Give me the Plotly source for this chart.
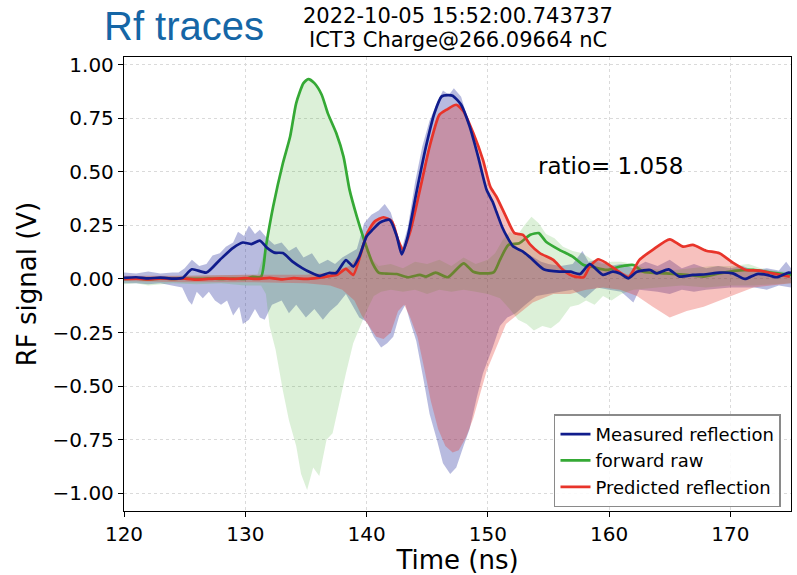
import plotly.graph_objects as go

# ---------------- data ----------------
# Smoothed envelopes (lines)
meas_t = [120.0, 121.0, 122.0, 123.0, 124.0, 124.8, 125.6, 126.8, 127.9, 129.0, 129.8, 130.5,
          131.2, 131.8, 132.4, 133.1, 133.9, 134.7, 135.4, 136.1, 136.9, 137.5, 138.3, 138.9,
          139.4, 140.0, 140.5, 141.1, 141.9, 142.5, 142.9, 143.4, 144.1, 144.9, 145.6, 146.2,
          146.7, 147.1, 147.8, 148.5, 149.2, 149.9, 150.4, 150.7, 151.2, 151.5, 152.1, 152.9,
          153.5, 154.6, 155.9, 156.8, 157.6, 158.4, 159.5, 160.3, 160.9, 161.6, 162.3, 163.4,
          163.9, 164.9, 165.8, 166.9, 168.0, 169.1, 170.2, 171.2, 172.2, 173.0, 173.8, 174.8, 175.0]
meas_v = [0.005, 0.008, 0.003, 0.006, 0.002, 0.004, 0.045, 0.030, 0.089, 0.145, 0.170, 0.163,
          0.179, 0.145, 0.123, 0.121, 0.081, 0.051, 0.030, 0.014, 0.028, 0.028, 0.088, 0.058,
          0.104, 0.198, 0.230, 0.263, 0.276, 0.198, 0.115, 0.198, 0.400, 0.618, 0.774, 0.852,
          0.858, 0.855, 0.813, 0.712, 0.571, 0.416, 0.360, 0.315, 0.240, 0.206, 0.151, 0.128,
          0.100, 0.045, 0.034, 0.034, 0.023, 0.069, 0.019, 0.034, 0.026, 0.003, 0.034, 0.042,
          0.026, 0.045, 0.011, 0.019, 0.022, 0.030, 0.026, 0.000, 0.023, 0.019, 0.008, 0.030, 0.028]

fwd_t = [120.0, 121.0, 122.0, 123.0, 124.0, 125.0, 126.0, 127.0, 128.0, 129.0, 130.0, 130.6,
         131.3, 131.7, 132.3, 133.1, 133.7, 134.2, 134.8, 135.2, 135.7, 136.3, 136.8, 137.5,
         138.1, 138.6, 139.2, 139.8, 140.5, 141.0, 141.6, 142.5, 143.4, 144.4, 144.9, 145.7,
         146.7, 148.0, 148.8, 149.6, 150.5, 151.0, 151.7, 152.6, 153.5, 154.2, 154.8, 155.9,
         157.0, 157.9, 158.7, 159.8, 160.9, 162.0, 162.8, 164.7, 166.4, 167.8, 169.1, 170.5,
         171.9, 173.3, 175.0]
fwd_v = [0.000, 0.003, -0.002, 0.002, 0.000, 0.002, 0.000, 0.002, 0.000, 0.002, 0.000, 0.010,
         0.010, 0.151, 0.338, 0.540, 0.665, 0.821, 0.914, 0.933, 0.914, 0.860, 0.774, 0.681,
         0.571, 0.416, 0.291, 0.182, 0.073, 0.030, 0.025, 0.023, 0.008, 0.019, 0.011, 0.030,
         0.008, 0.073, 0.034, 0.026, 0.032, 0.089, 0.159, 0.167, 0.206, 0.214, 0.174, 0.136,
         0.104, 0.065, 0.055, 0.042, 0.058, 0.065, 0.034, 0.026, 0.019, 0.011, 0.026, 0.039,
         0.042, 0.030, 0.019]

pred_t = [120.0, 121.0, 122.0, 123.0, 124.0, 125.0, 126.0, 127.0, 128.0, 129.0, 130.0, 131.0,
          132.0, 133.0, 134.0, 135.0, 136.0, 137.0, 137.6, 138.3, 138.9, 140.0, 140.7, 141.4,
          142.1, 142.6, 143.0, 143.6, 144.4, 145.2, 146.0, 146.6, 147.4, 148.0, 148.8, 149.6,
          150.2, 150.7, 151.5, 152.2, 152.9, 153.5, 154.3, 155.4, 156.2, 157.0, 157.9, 158.4,
          159.1, 159.8, 160.6, 161.6, 162.5, 163.6, 165.0, 166.1, 166.9, 168.0, 169.1, 170.2,
          171.3, 172.4, 173.5, 174.9]
pred_v = [0.000, 0.002, -0.002, 0.003, 0.000, 0.002, -0.003, 0.000, 0.003, 0.000, 0.004, 0.000,
          0.005, -0.002, 0.004, 0.000, 0.005, 0.014, 0.020, 0.047, 0.019, 0.206, 0.270, 0.288,
          0.268, 0.182, 0.136, 0.221, 0.416, 0.618, 0.766, 0.790, 0.813, 0.782, 0.681, 0.556,
          0.431, 0.385, 0.291, 0.214, 0.206, 0.160, 0.120, 0.089, 0.042, 0.014, 0.008, 0.058,
          0.092, 0.073, 0.042, 0.008, 0.089, 0.136, 0.185, 0.151, 0.159, 0.132, 0.120, 0.076,
          0.042, 0.039, 0.026, 0.011]

# Raw (oscillating) signals, given as their upper / lower extents
meas_raw_up_t = [120, 121, 122, 123, 124, 124.5, 125, 125.6, 126.2, 126.8, 127.3, 127.9, 128.4,
                 129.0, 129.4, 129.9, 130.3, 130.8, 131.2, 131.8, 132.4, 133.0, 133.6, 134.2,
                 134.8, 135.5, 136.1, 136.8, 137.4, 138.0, 138.6, 139.2, 139.8, 140.4, 141.0,
                 141.5, 142.0, 142.5, 142.9, 143.4, 144.0, 144.6, 145.2, 145.8, 146.3, 146.8,
                 147.2, 147.8, 148.4, 149.0, 149.6, 150.2, 150.8, 151.4, 152.0, 152.6, 153.2,
                 153.8, 154.4, 155.0, 156.0, 157.0, 157.8, 158.3, 159.0, 160.0, 161.0, 162.0,
                 163.0, 164.0, 165.0, 166.0, 167.0, 168.0, 169.0, 170.0, 171.0, 172.0, 173.0,
                 174.0, 174.6, 175.0]
meas_raw_up_v = [0.03, 0.025, 0.035, 0.025, 0.03, 0.03, 0.05, 0.09, 0.06, 0.07, 0.11, 0.12, 0.15,
                 0.17, 0.22, 0.20, 0.25, 0.21, 0.23, 0.19, 0.16, 0.17, 0.13, 0.15, 0.10, 0.12,
                 0.07, 0.09, 0.07, 0.10, 0.12, 0.14, 0.26, 0.30, 0.32, 0.35, 0.31, 0.22, 0.14,
                 0.24, 0.45, 0.62, 0.74, 0.82, 0.88, 0.86, 0.89, 0.85, 0.74, 0.62, 0.48, 0.38,
                 0.30, 0.22, 0.17, 0.14, 0.12, 0.10, 0.08, 0.07, 0.06, 0.07, 0.13, 0.08, 0.09,
                 0.06, 0.07, 0.05, 0.08, 0.06, 0.09, 0.05, 0.07, 0.05, 0.06, 0.05, 0.06, 0.04,
                 0.05, 0.04, 0.08, 0.05]
meas_raw_lo_t = [120, 121, 122, 123, 124, 124.8, 125.3, 125.6, 126.0, 126.5, 127.0, 127.5, 128.0,
                 128.5, 129.0, 129.5, 129.8, 130.3, 130.8, 131.2, 131.6, 132.2, 133.0, 133.6,
                 134.2, 135.0, 135.7, 136.4, 137.0, 137.6, 138.3, 138.8, 139.4, 140.0, 140.6,
                 141.2, 141.7, 142.2, 142.7, 143.2, 143.6, 144.1, 144.7, 145.2, 145.8, 146.3,
                 146.9, 147.4, 148.0, 148.5, 149.1, 149.6, 150.4, 151.0, 151.6, 152.3, 153.1,
                 154.0, 155.0, 156.0, 157.0, 158.0, 159.0, 160.0, 161.0, 162.0, 162.5, 164.0,
                 165.0, 166.0, 167.0, 168.0, 170.0, 172.0, 173.0, 174.0, 175.0]
meas_raw_lo_v = [-0.02, -0.02, -0.025, -0.02, -0.03, -0.04, -0.10, -0.12, -0.06, -0.09, -0.06,
                 -0.10, -0.12, -0.10, -0.17, -0.13, -0.21, -0.19, -0.14, -0.18, -0.19, -0.12,
                 -0.10, -0.16, -0.12, -0.18, -0.14, -0.19, -0.15, -0.12, -0.07, -0.12, -0.18,
                 -0.20, -0.27, -0.32, -0.30, -0.27, -0.17, -0.12, -0.20, -0.29, -0.47, -0.63,
                 -0.75, -0.86, -0.91, -0.88, -0.78, -0.70, -0.55, -0.44, -0.32, -0.22, -0.18,
                 -0.16, -0.12, -0.08, -0.07, -0.06, -0.05, -0.09, -0.04, -0.05, -0.06, -0.11,
                 -0.05, -0.06, -0.07, -0.05, -0.06, -0.05, -0.04, -0.04, -0.05, -0.03, -0.04]

fwd_raw_up_t = [120, 131.0, 131.7, 132.3, 133.1, 133.7, 134.2, 134.8, 135.2, 135.7, 136.3, 136.8,
                137.5, 138.1, 138.6, 139.2, 139.8, 140.5, 141.0, 142, 143, 144, 145, 146, 147,
                148, 149, 150, 150.6, 151.2, 151.8, 152.4, 153.0, 153.6, 154.2, 154.8, 155.5,
                156.2, 157.0, 157.8, 158.6, 159.4, 160.2, 161.0, 162.0, 163, 165, 167, 168.5,
                170, 171.5, 172.5, 173.5, 175]
fwd_raw_up_v = [0.01, 0.02, 0.15, 0.34, 0.54, 0.665, 0.82, 0.91, 0.93, 0.91, 0.86, 0.77, 0.68,
                0.57, 0.42, 0.29, 0.18, 0.09, 0.06, 0.07, 0.05, 0.08, 0.07, 0.09, 0.06, 0.10,
                0.07, 0.09, 0.12, 0.18, 0.22, 0.20, 0.25, 0.29, 0.26, 0.21, 0.19, 0.15, 0.13,
                0.12, 0.09, 0.07, 0.08, 0.08, 0.07, 0.05, 0.04, 0.05, 0.06, 0.06, 0.07, 0.05,
                0.04, 0.03]
fwd_raw_lo_t = [120, 121, 122, 124, 126, 128, 130, 131.3, 131.7, 132.0, 132.5, 133.1, 133.6,
                134.2, 134.6, 135.1, 135.6, 136.1, 136.7, 137.2, 137.8, 138.3, 138.9, 139.4,
                140.0, 140.6, 141.2, 142, 143, 144, 145, 146, 147, 148, 149, 150, 151, 151.8,
                152.5, 153.2, 153.8, 154.5, 155.2, 155.9, 156.8, 157.5, 158.1, 158.8, 159.5,
                160.2, 161.0, 162.0, 164, 166, 168, 170, 172, 175]
fwd_raw_lo_v = [-0.025, -0.02, -0.03, -0.02, -0.025, -0.02, -0.03, -0.03, -0.07, -0.22, -0.33,
                -0.52, -0.66, -0.78, -0.91, -0.985, -0.88, -0.92, -0.75, -0.72, -0.57, -0.44,
                -0.30, -0.23, -0.15, -0.08, -0.06, -0.05, -0.06, -0.05, -0.07, -0.05, -0.06,
                -0.05, -0.06, -0.07, -0.09, -0.14, -0.19, -0.21, -0.24, -0.22, -0.23, -0.20,
                -0.13, -0.12, -0.10, -0.12, -0.08, -0.10, -0.07, -0.05, -0.04, -0.03, -0.04,
                -0.03, -0.03, -0.02]

pred_raw_up_t = [120, 125, 130, 135, 137, 138.0, 138.6, 139.2, 140.0, 140.7, 141.4, 142.1, 142.6,
                 143.0, 143.6, 144.4, 145.2, 146.0, 146.6, 147.4, 148.0, 148.8, 149.6, 150.2,
                 150.7, 151.5, 152.2, 152.9, 153.5, 154.3, 155.4, 156.2, 157.0, 157.9, 158.4,
                 159.1, 159.8, 160.6, 161.6, 162.5, 163.6, 165.0, 166.1, 166.9, 168.0, 169.1,
                 170.2, 171.3, 172.4, 173.5, 175]
pred_raw_up_v = [0.015, 0.015, 0.02, 0.02, 0.03, 0.05, 0.06, 0.10, 0.21, 0.27, 0.29, 0.27, 0.18,
                 0.14, 0.22, 0.42, 0.62, 0.77, 0.79, 0.81, 0.78, 0.68, 0.56, 0.43, 0.385, 0.29,
                 0.21, 0.21, 0.16, 0.12, 0.09, 0.05, 0.03, 0.03, 0.06, 0.09, 0.07, 0.04, 0.02,
                 0.09, 0.136, 0.185, 0.151, 0.159, 0.132, 0.12, 0.076, 0.042, 0.039, 0.026, 0.011]
pred_raw_lo_t = [120, 125, 130, 135, 137, 138, 139, 139.6, 140.2, 140.8, 141.4, 142.0, 142.6,
                 143.1, 143.6, 144.2, 144.8, 145.3, 145.9, 146.5, 147.1, 147.6, 148.2, 148.8,
                 149.4, 149.9, 150.7, 151.5, 152.6, 153.7, 155.4, 156.8, 158.1, 159.5, 160.9,
                 162.3, 163.6, 165.0, 166.4, 167.8, 169.1, 170.5, 171.9, 173.5, 175]
pred_raw_lo_v = [-0.01, -0.015, -0.015, -0.02, -0.03, -0.05, -0.10, -0.17, -0.22, -0.27, -0.28,
                 -0.25, -0.15, -0.12, -0.18, -0.27, -0.43, -0.57, -0.70, -0.78, -0.81, -0.80,
                 -0.74, -0.65, -0.53, -0.43, -0.32, -0.21, -0.16, -0.11, -0.07, -0.07, -0.05,
                 -0.04, -0.05, -0.08, -0.13, -0.18, -0.15, -0.13, -0.10, -0.07, -0.04, -0.03, -0.02]

x_ticks = [120, 130, 140, 150, 160, 170]
y_ticks = [-1.0, -0.75, -0.5, -0.25, 0.0, 0.25, 0.5, 0.75, 1.0]

title_main = "Rf traces"
title_time = "2022-10-05 15:52:00.743737"
title_charge = "ICT3 Charge@266.09664 nC"
ratio_text = "ratio= 1.058"

# ---------------- styles ----------------
C_MEAS = "#101c8c"
C_FWD = "#35a935"
C_PRED = "#e8342a"
F_MEAS = "rgba(20,30,150,0.30)"
F_FWD = "rgba(60,170,40,0.18)"
F_PRED = "rgba(230,50,40,0.30)"
FONT = "DejaVu Sans"


def band(tu, vu, tl, vl, color):
    return go.Scatter(x=list(tu) + list(tl)[::-1], y=list(vu) + list(vl)[::-1],
                      fill="toself", fillcolor=color, mode="lines",
                      line=dict(width=0), hoverinfo="skip", showlegend=False)


fig = go.Figure()
fig.add_trace(band(meas_raw_up_t, meas_raw_up_v, meas_raw_lo_t, meas_raw_lo_v, F_MEAS))
fig.add_trace(band(fwd_raw_up_t, fwd_raw_up_v, fwd_raw_lo_t, fwd_raw_lo_v, F_FWD))
fig.add_trace(go.Scatter(x=fwd_t, y=fwd_v, mode="lines", name="forward raw",
                         line=dict(color=C_FWD, width=2.7, shape="spline", smoothing=0.6),
                         legendrank=2))
fig.add_trace(band(pred_raw_up_t, pred_raw_up_v, pred_raw_lo_t, pred_raw_lo_v, F_PRED))
fig.add_trace(go.Scatter(x=pred_t, y=pred_v, mode="lines", name="Predicted reflection",
                         line=dict(color=C_PRED, width=2.7, shape="spline", smoothing=0.6),
                         legendrank=3))
fig.add_trace(go.Scatter(x=meas_t, y=meas_v, mode="lines", name="Measured reflection",
                         line=dict(color=C_MEAS, width=2.7, shape="spline", smoothing=0.6),
                         legendrank=1))

axis_common = dict(showline=True, linecolor="black", linewidth=1.3, mirror=True,
                   ticks="outside", ticklen=5, tickwidth=1.2, tickcolor="black",
                   showgrid=True, gridcolor="#dadada", griddash="dot", gridwidth=1,
                   zeroline=False, tickfont=dict(family=FONT, size=20, color="black"))

fig.update_xaxes(range=[120, 175], tickvals=x_ticks, ticktext=[str(v) for v in x_ticks],
                 title=dict(text="Time (ns)", font=dict(family=FONT, size=26, color="black"),
                            standoff=6),
                 **axis_common)
fig.update_yaxes(range=[-1.083, 1.036], tickvals=y_ticks, tickformat=".2f",
                 title=dict(text="RF signal (V)", font=dict(family=FONT, size=26, color="black"),
                            standoff=8),
                 **axis_common)

fig.add_annotation(x=0.0893, y=1.068, xref="paper", yref="paper", text=title_main,
                   showarrow=False, xanchor="center", yanchor="middle",
                   font=dict(family="Liberation Sans", size=40, color="#1566a6"))
fig.add_annotation(x=0.5, y=1.0914, xref="paper", yref="paper", text=title_time,
                   showarrow=False, xanchor="center", yanchor="middle",
                   font=dict(family=FONT, size=21, color="black"))
fig.add_annotation(x=0.5, y=1.0379, xref="paper", yref="paper", text=title_charge,
                   showarrow=False, xanchor="center", yanchor="middle",
                   font=dict(family=FONT, size=21, color="black"))
fig.add_annotation(x=154.0, y=0.528, xref="x", yref="y", text=ratio_text,
                   showarrow=False, xanchor="left", yanchor="middle",
                   font=dict(family=FONT, size=23, color="black"))

fig.update_layout(
    width=797, height=575,
    margin=dict(l=124, r=6, t=57, b=64),
    paper_bgcolor="white", plot_bgcolor="white",
    font=dict(family=FONT, color="black"),
    legend=dict(x=0.985, y=0.008, xanchor="right", yanchor="bottom",
                bgcolor="rgba(255,255,255,0.85)", bordercolor="#8a8a8a", borderwidth=1.5,
                font=dict(family=FONT, size=18, color="black"), traceorder="normal"),
    showlegend=True,
)

fig.write_html("out.html")
